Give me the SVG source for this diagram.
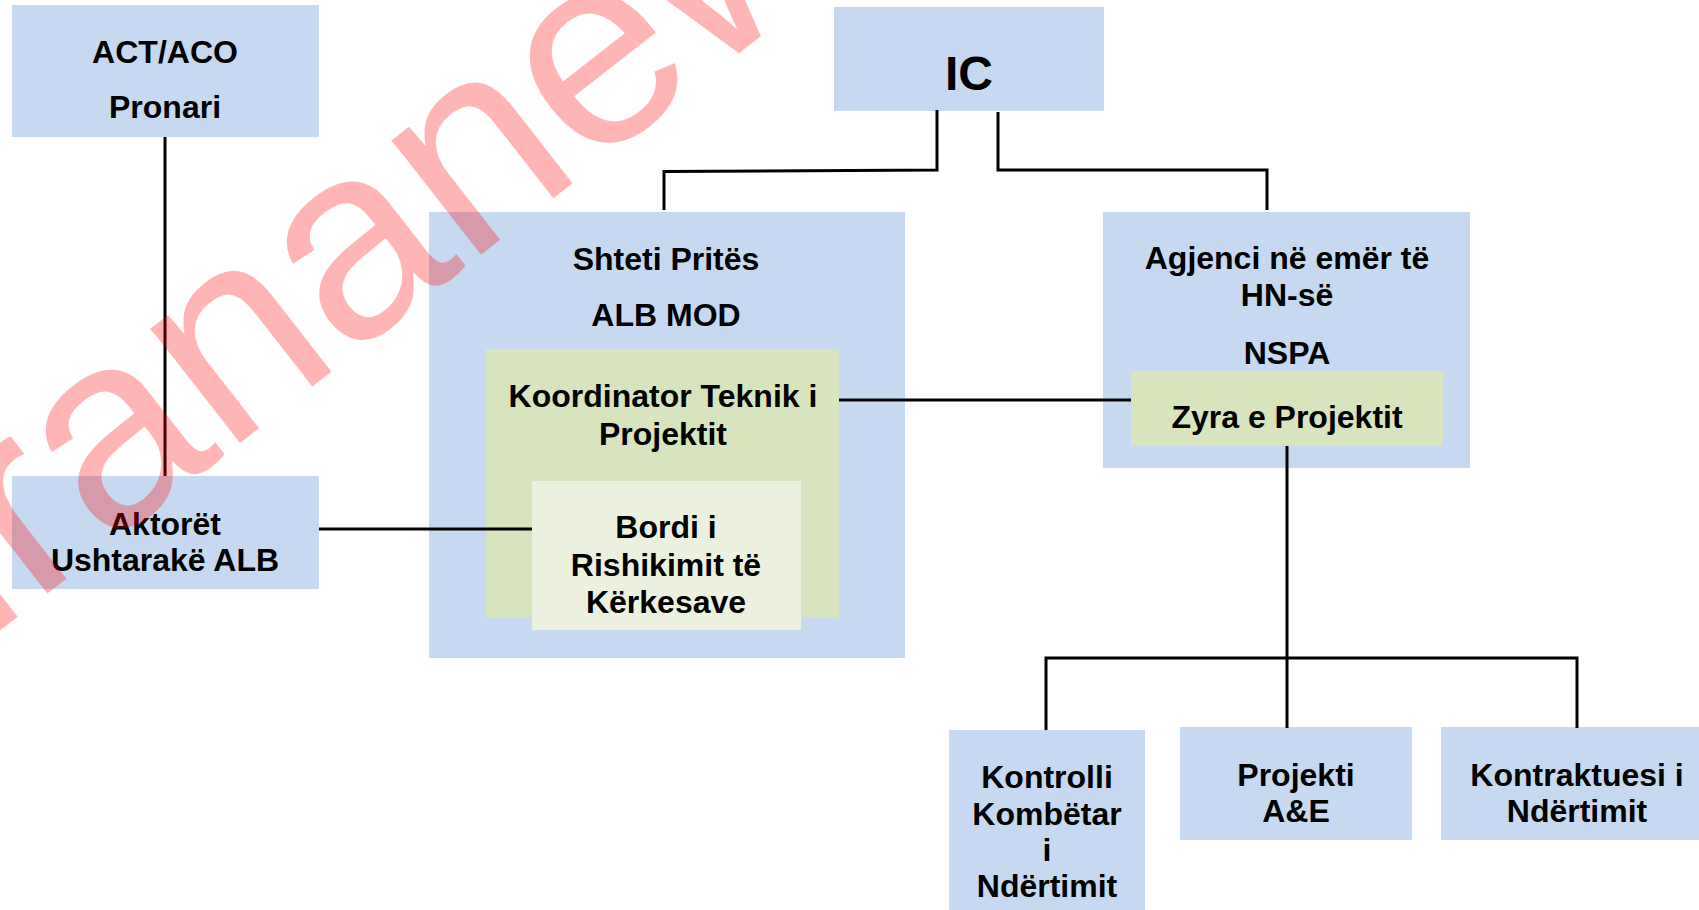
<svg xmlns="http://www.w3.org/2000/svg" width="1699" height="910" viewBox="0 0 1699 910">
  <style>
    .blue { fill: #C6D9F1; }
    .green { fill: #D7E4BD; }
    .pale { fill: #EBF1DE; }
    .t { font-family: "Liberation Sans", Arial, sans-serif; font-weight: bold; font-size: 32px; fill: #000; text-anchor: middle; }
    .big { font-size: 48px; }
    .conn { fill: none; stroke: #000; stroke-width: 3; }
    .wm { font-family: "Liberation Sans", Arial, sans-serif; font-size: 275px; fill: #FF0000; fill-opacity: 0.29; }
  </style>
  <rect width="1699" height="910" fill="#FFFFFF"/>

  <g id="act-aco">
    <rect class="blue" x="12" y="5" width="307" height="132"/>
    <text class="t" x="165" y="63">ACT/ACO</text>
    <text class="t" x="165" y="118">Pronari</text>
  </g>

  <g id="ic">
    <rect class="blue" x="834" y="7" width="270" height="104"/>
    <text class="t big" x="969" y="90">IC</text>
  </g>

  <g id="shteti-prites">
    <rect class="blue" x="429" y="212" width="476" height="446"/>
    <text class="t" x="666" y="270">Shteti Pritës</text>
    <text class="t" x="666" y="326">ALB MOD</text>
  </g>

  <g id="koordinator">
    <rect class="green" x="486" y="349" width="353" height="268"/>
    <text class="t" x="663" y="407">Koordinator Teknik i</text>
    <text class="t" x="663" y="445">Projektit</text>
  </g>

  <g id="bordi">
    <rect class="pale" x="532" y="481" width="269" height="149"/>
    <text class="t" x="666" y="538">Bordi i</text>
    <text class="t" x="666" y="576">Rishikimit të</text>
    <text class="t" x="666" y="613">Kërkesave</text>
  </g>

  <g id="aktoret">
    <rect class="blue" x="12" y="476" width="307" height="113"/>
    <text class="t" x="165" y="535">Aktorët</text>
    <text class="t" x="165" y="571">Ushtarakë ALB</text>
  </g>

  <g id="agjenci">
    <rect class="blue" x="1103" y="212" width="367" height="256"/>
    <text class="t" x="1287" y="269">Agjenci në emër të</text>
    <text class="t" x="1287" y="306">HN-së</text>
    <text class="t" x="1287" y="364">NSPA</text>
  </g>

  <g id="zyra">
    <rect class="green" x="1131" y="371" width="312" height="75"/>
    <text class="t" x="1287" y="428">Zyra e Projektit</text>
  </g>

  <g id="kontrolli">
    <rect class="blue" x="949" y="730" width="196" height="185"/>
    <text class="t" x="1047" y="788">Kontrolli</text>
    <text class="t" x="1047" y="825">Kombëtar</text>
    <text class="t" x="1047" y="861">i</text>
    <text class="t" x="1047" y="897">Ndërtimit</text>
  </g>

  <g id="projekti">
    <rect class="blue" x="1180" y="727" width="232" height="113"/>
    <text class="t" x="1296" y="786">Projekti</text>
    <text class="t" x="1296" y="822">A&amp;E</text>
  </g>

  <g id="kontraktuesi">
    <rect class="blue" x="1441" y="727" width="272" height="113"/>
    <text class="t" x="1577" y="786">Kontraktuesi i</text>
    <text class="t" x="1577" y="822">Ndërtimit</text>
  </g>

  <g id="connectors">
    <line class="conn" x1="165" y1="137" x2="165" y2="476"/>
    <line class="conn" x1="319" y1="529" x2="532" y2="529"/>
    <polyline class="conn" points="937,110 937,170 664,171.5 664,210"/>
    <polyline class="conn" points="998,112 998,170 1267,170 1267,210"/>
    <line class="conn" x1="839" y1="400" x2="1131" y2="400"/>
    <line class="conn" x1="1287" y1="446" x2="1287" y2="728"/>
    <polyline class="conn" points="1046,730 1046,658 1577,658 1577,728"/>
  </g>

  <g id="watermark">
    <text class="wm" transform="translate(-76,690) rotate(-38)">tirananew</text>
  </g>
</svg>
